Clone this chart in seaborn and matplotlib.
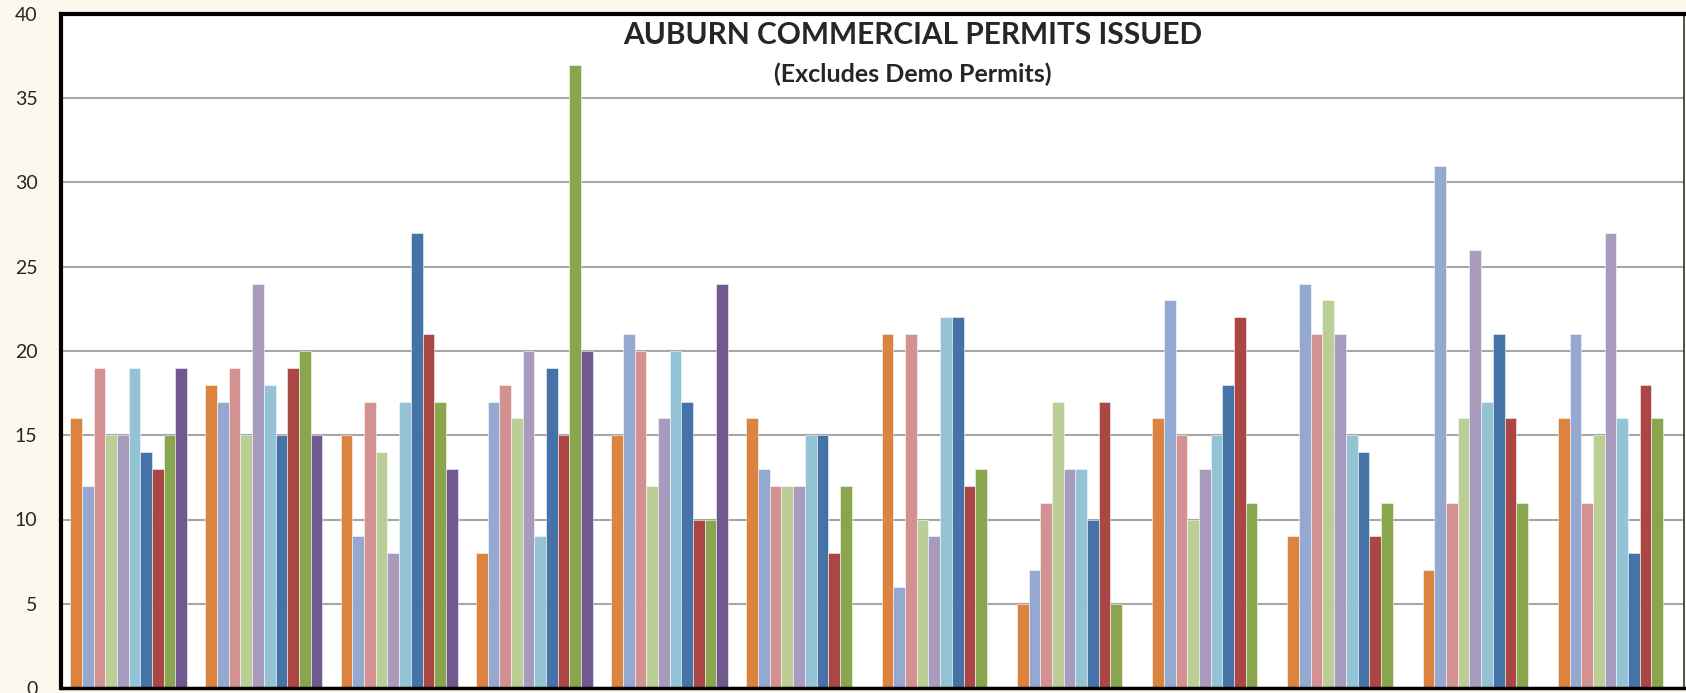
import numpy as np
import pandas as pd
import seaborn as sns
import matplotlib.pyplot as plt

# monthly commercial permit counts, one list per year
months = ["Jan", "Feb", "Mar", "Apr", "May", "Jun",
          "Jul", "Aug", "Sep", "Oct", "Nov", "Dec"]
years = ["2005", "2006", "2007", "2008", "2009",
         "2010", "2011", "2012", "2013", "2014"]

y2005 = [16, 18, 15, 8, 15, 16, 21, 5, 16, 9, 7, 16]
y2006 = [12, 17, 9, 17, 21, 13, 6, 7, 23, 24, 31, 21]
y2007 = [19, 19, 17, 18, 20, 12, 21, 11, 15, 21, 11, 11]
y2008 = [15, 15, 14, 16, 12, 12, 10, 17, 10, 23, 16, 15]
y2009 = [15, 24, 8, 20, 16, 12, 9, 13, 13, 21, 26, 27]
y2010 = [19, 18, 17, 9, 20, 15, 22, 13, 15, 15, 17, 16]
y2011 = [14, 15, 27, 19, 17, 15, 22, 10, 18, 14, 21, 8]
y2012 = [13, 19, 21, 15, 10, 8, 12, 17, 22, 9, 16, 18]
y2013 = [15, 20, 17, 37, 10, 12, 13, 5, 11, 11, 11, 16]
y2014 = [19, 15, 13, 20, 24, None, None, None, None, None, None, None]

colors = ["#DC843F", "#95A9D0", "#D49191", "#BBCE96", "#A99BBE",
          "#93C3D5", "#4572A7", "#AA4643", "#89A54E", "#71588F"]

series = [y2005, y2006, y2007, y2008, y2009, y2010, y2011, y2012, y2013, y2014]
rows = []
for yr, vals in zip(years, series):
    for m, v in zip(months, vals):
        if v is not None:
            rows.append({"month": m, "year": yr, "permits": v})
df = pd.DataFrame(rows)

sns.set_style("white")
plt.rcParams["font.family"] = ["Lato", "DejaVu Sans"]

fig = plt.figure(figsize=(16.86, 6.93), dpi=100)
fig.patch.set_facecolor("#FBF9EE")
ax = fig.add_axes([61 / 1686, 5 / 693, 1623 / 1686, 674 / 693])
ax.set_facecolor("white")

sns.barplot(data=df, x="month", y="permits", hue="year", order=months,
            hue_order=years, palette=colors, saturation=1, width=0.865,
            dodge=True, edgecolor=(1, 1, 1, 0.6), linewidth=0.6,
            legend=False, ax=ax)

ax.set_ylim(0, 40)
ax.set_xlim(-0.5, 11.5)
ax.set_yticks(np.arange(0, 41, 5))
ax.yaxis.grid(True, color="#A6A6A6", linewidth=1.5)
ax.set_axisbelow(True)
ax.set_xticks(np.arange(-0.5, 12, 1))
ax.set_xticklabels([])
ax.tick_params(axis="y", labelsize=14, length=7, width=1.2, color="#808080", pad=10)
ax.tick_params(axis="x", length=4, width=1.2, color="#808080", direction="out")
ax.set_xlabel("")
ax.set_ylabel("")

for side in ["top", "left"]:
    ax.spines[side].set_color("black")
    ax.spines[side].set_linewidth(3)
ax.spines["bottom"].set_color("black")
ax.spines["bottom"].set_linewidth(2.5)
ax.spines["right"].set_color("#333333")
ax.spines["right"].set_linewidth(1.2)

fig.text(913 / 1686, 1 - 35 / 693, "AUBURN COMMERCIAL PERMITS ISSUED",
         ha="center", va="center", fontsize=21.5, fontweight="bold")
fig.text(913 / 1686, 1 - 74 / 693, "(Excludes Demo Permits)",
         ha="center", va="center", fontsize=18, fontweight="bold")

fig.savefig("out.png", dpi=100, facecolor=fig.get_facecolor())
